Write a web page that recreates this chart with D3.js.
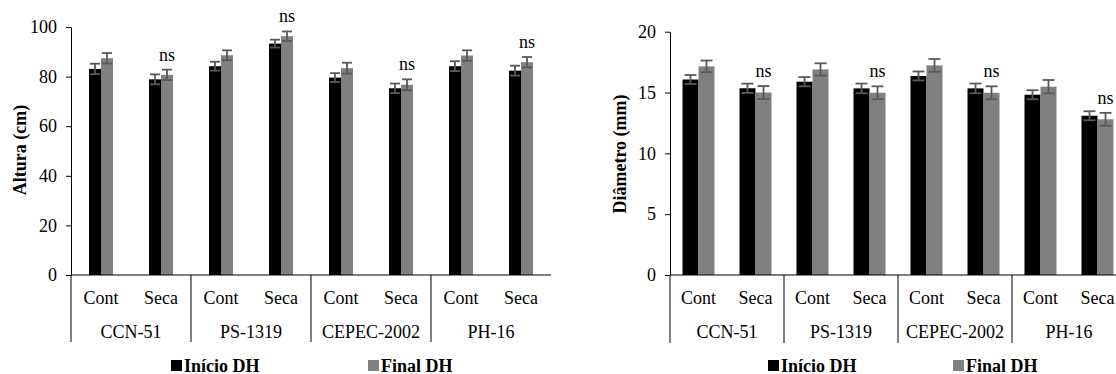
<!DOCTYPE html>
<html>
<head>
<meta charset="utf-8">
<script src="https://cdn.jsdelivr.net/npm/d3@7"></script>
<style>
  body { margin: 0; background: #fff; }
  svg { display: block; }
  svg text { font-family: "Times New Roman", "Liberation Serif", serif; }
</style>
</head>
<body>
<svg id="chart" width="1116" height="374"></svg>
<script>
// categories
const genotypes = ['CCN-51', 'PS-1319', 'CEPEC-2002', 'PH-16']
const conditions = ['Cont', 'Seca']
const seriesNames = ['Início DH', 'Final DH']

// altura (cm), one value per genotype x condition
const alturaInicio = [83.1, 78.9, 84.2, 93.3, 79.6, 75.3, 84.2, 82.4]
const alturaInicioErr = [2.1, 2.0, 1.8, 1.6, 1.8, 1.9, 2.0, 2.0]
const alturaFinal = [87.4, 80.7, 88.6, 96.3, 83.4, 76.7, 88.5, 85.8]
const alturaFinalErr = [2.1, 2.1, 2.0, 1.9, 2.2, 2.2, 2.1, 2.1]
const alturaTicks = [0, 20, 40, 60, 80, 100]

// diametro (mm)
const diametroInicio = [16.07, 15.35, 15.89, 15.34, 16.36, 15.34, 14.82, 13.09]
const diametroInicioErr = [0.37, 0.38, 0.38, 0.4, 0.37, 0.4, 0.37, 0.37]
const diametroFinal = [17.15, 15.0, 16.9, 14.98, 17.23, 14.98, 15.48, 12.8]
const diametroFinalErr = [0.48, 0.53, 0.5, 0.53, 0.52, 0.53, 0.55, 0.53]
const diametroTicks = [0, 5, 10, 15, 20]

// "ns" marks (Seca of every genotype)
const nsFlags = [false, true, false, true, false, true, false, true]

const colors = ['#000000', '#808080']
const errColor = '#595959'
const fontSize = 18

const svg = d3.select('#chart')

const drawPanel = (opt) => {
    const g = svg.append('g')

    // one slot per genotype/condition pair
    const slots = []
    genotypes.forEach(gen => conditions.forEach(c => slots.push(gen + '|' + c)))

    const x = d3.scaleBand()
        .domain(slots)
        .range([opt.left, opt.right])

    const xGroup = d3.scaleBand()
        .domain(genotypes)
        .range([opt.left, opt.right])

    const y = d3.scaleLinear()
        .domain([0, opt.max])
        .range([opt.bottom, opt.top])

    const rows = slots.map((s, i) => ({
        slot: s,
        values: [opt.inicio[i], opt.final[i]],
        errs: [opt.inicioErr[i], opt.finalErr[i]],
        ns: nsFlags[i]
    }))

    // bars
    seriesNames.forEach((name, si) => {
        g.selectAll('.bar' + si)
            .data(rows)
            .enter()
            .append('rect')
                .attr('x', d => x(d.slot) + x.bandwidth() / 2 - opt.barW + si * opt.barW)
                .attr('y', d => y(d.values[si]))
                .attr('width', opt.barW)
                .attr('height', d => y(0) - y(d.values[si]))
                .attr('fill', colors[si])
    })

    // error bars
    seriesNames.forEach((name, si) => {
        const cx = d => x(d.slot) + x.bandwidth() / 2 - opt.barW / 2 + si * opt.barW
        const eb = g.selectAll('.err' + si)
            .data(rows)
            .enter()
            .append('g')
            .attr('stroke', errColor)
            .attr('stroke-width', 1.8)

        eb.append('line')
            .attr('x1', cx).attr('x2', cx)
            .attr('y1', d => y(d.values[si] - d.errs[si]))
            .attr('y2', d => y(d.values[si] + d.errs[si]))
        eb.append('line')
            .attr('x1', d => cx(d) - opt.capW / 2).attr('x2', d => cx(d) + opt.capW / 2)
            .attr('y1', d => y(d.values[si] + d.errs[si]))
            .attr('y2', d => y(d.values[si] + d.errs[si]))
        eb.append('line')
            .attr('x1', d => cx(d) - opt.capW / 2).attr('x2', d => cx(d) + opt.capW / 2)
            .attr('y1', d => y(d.values[si] - d.errs[si]))
            .attr('y2', d => y(d.values[si] - d.errs[si]))
    })

    // ns labels over the Final DH bar
    g.selectAll('.ns')
        .data(rows.filter(d => d.ns))
        .enter()
        .append('text')
            .attr('x', d => x(d.slot) + x.bandwidth() / 2 + opt.barW / 2)
            .attr('y', d => y(d.values[1] + d.errs[1]) - 9)
            .attr('text-anchor', 'middle')
            .attr('font-size', fontSize)
            .text('ns')

    // y axis
    const yAxis = g.append('g')
        .attr('transform', `translate(${opt.left},0)`)
        .call(d3.axisLeft(y).tickValues(opt.ticks).tickSize(5).tickSizeOuter(0).tickPadding(9))
    yAxis.selectAll('text')
        .style('font-family', '"Times New Roman", "Liberation Serif", serif')
        .style('font-size', fontSize + 'px')
        .attr('fill', '#000')
    yAxis.selectAll('line, path').attr('stroke', '#000')

    // x axis line
    g.append('line')
        .attr('x1', opt.left).attr('x2', opt.right)
        .attr('y1', y(0)).attr('y2', y(0))
        .attr('stroke', '#000')

    // group separators
    g.selectAll('.sep')
        .data(genotypes)
        .enter()
        .append('line')
            .attr('x1', d => xGroup(d)).attr('x2', d => xGroup(d))
            .attr('y1', y(0)).attr('y2', opt.sepBottom)
            .attr('stroke', '#000')

    // condition labels
    g.selectAll('.cond')
        .data(slots)
        .enter()
        .append('text')
            .attr('x', d => x(d) + x.bandwidth() / 2)
            .attr('y', 304)
            .attr('text-anchor', 'middle')
            .attr('font-size', fontSize)
            .text(d => d.split('|')[1])

    // genotype labels
    g.selectAll('.gen')
        .data(genotypes)
        .enter()
        .append('text')
            .attr('x', d => xGroup(d) + xGroup.bandwidth() / 2)
            .attr('y', 337.5)
            .attr('text-anchor', 'middle')
            .attr('font-size', fontSize)
            .text(d => d)

    // y axis title
    g.append('text')
        .attr('transform', `translate(${opt.titleX},${opt.titleY}) rotate(-90)`)
        .attr('text-anchor', 'middle')
        .attr('font-size', fontSize)
        .attr('font-weight', 'bold')
        .text(opt.title)

    // legend
    const legend = g.selectAll('.legend')
        .data(seriesNames)
        .enter()
        .append('g')
        .attr('transform', (d, i) => `translate(${opt.legendX[i]},0)`)
    legend.append('rect')
        .attr('x', 0).attr('y', 360)
        .attr('width', 11).attr('height', 11)
        .attr('fill', (d, i) => colors[i])
    legend.append('text')
        .attr('x', 13).attr('y', 371.5)
        .attr('font-size', fontSize)
        .attr('font-weight', 'bold')
        .text(d => d)
}

drawPanel({
    left: 71, right: 551, top: 27, bottom: 275, max: 100,
    ticks: alturaTicks, barW: 12, capW: 10, sepBottom: 342,
    inicio: alturaInicio, inicioErr: alturaInicioErr,
    final: alturaFinal, finalErr: alturaFinalErr,
    title: 'Altura (cm)', titleX: 26, titleY: 150,
    legendX: [171, 368]
})

drawPanel({
    left: 670, right: 1126, top: 31.7, bottom: 275, max: 20,
    ticks: diametroTicks, barW: 16, capW: 12, sepBottom: 343,
    inicio: diametroInicio, inicioErr: diametroInicioErr,
    final: diametroFinal, finalErr: diametroFinalErr,
    title: 'Diâmetro (mm)', titleX: 626, titleY: 154,
    legendX: [768, 953]
})
</script>
</body>
</html>
